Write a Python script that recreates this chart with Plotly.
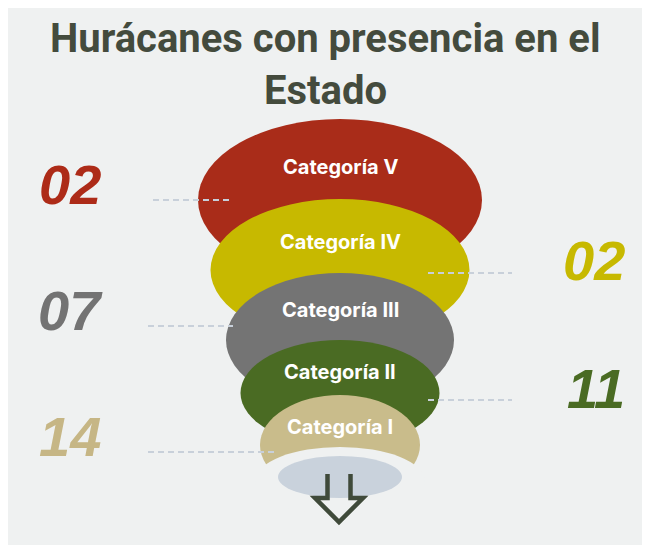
import plotly.graph_objects as go

# ---- data ----
categories = ["Categoría V", "Categoría IV", "Categoría III", "Categoría II", "Categoría I"]
counts = [2, 2, 7, 11, 14]
sides = ["left", "right", "left", "right", "left"]
colors = ["#a92c19", "#c7b900", "#747474", "#4a6b23", "#c9bc8b"]
number_colors = ["#ad2b18", "#c7b900", "#737373", "#4a6b23", "#c6b685"]
title_lines = ["Hurácanes con presencia en el", "Estado"]

# ---- layout geometry (page pixels, y downwards) ----
W, H = 650, 545
OFF = 8  # page body margin
CX = 340
ell_cy = [200, 270, 340, 393, 445]
ell_rx = [142, 129.5, 114, 99.5, 80]
ell_ry = [81, 71, 67, 53, 50]
label_y = [167, 242, 310, 372, 427]
number_y = [184, 260, 310, 388, 436]
dash_y = [200, 273, 326, 400, 452]
dash_left = [(153, 233), (148, 233), (148, 275)]
dash_right = [(428, 512), (428, 512)]

BG = "#eff1f1"
LINE = "#c8d0da"
TITLE_COLOR = "#444b3d"

shapes = []
for i, c in enumerate(categories):
    shapes.append(dict(type="circle", xref="x", yref="y",
                       x0=CX - ell_rx[i], x1=CX + ell_rx[i],
                       y0=ell_cy[i] - ell_ry[i], y1=ell_cy[i] + ell_ry[i],
                       fillcolor=colors[i], line=dict(width=0), layer="above"))

# cut-out and base disc
shapes.append(dict(type="circle", xref="x", yref="y", x0=CX - 85, x1=CX + 85,
                   y0=447, y1=515, fillcolor=BG, line=dict(width=0), layer="above"))
shapes.append(dict(type="circle", xref="x", yref="y", x0=CX - 62, x1=CX + 62,
                   y0=456, y1=498, fillcolor="#c9d2dc", line=dict(width=0), layer="above"))

# arrow
ax0 = CX - 1
arrow = (f"M {ax0-11.5} 474 L {ax0-11.5} 498 L {ax0-24} 498 L {ax0} 522 "
         f"L {ax0+24} 498 L {ax0+11.5} 498 L {ax0+11.5} 474")
shapes.append(dict(type="path", xref="x", yref="y", path=arrow,
                   line=dict(color="#3f4a3a", width=4.5), layer="above"))

# dashed leader lines
li = ri = 0
for i, s in enumerate(sides):
    if s == "left":
        x0, x1 = dash_left[li]; li += 1
    else:
        x0, x1 = dash_right[ri]; ri += 1
    shapes.append(dict(type="line", xref="x", yref="y", x0=x0, x1=x1,
                       y0=dash_y[i], y1=dash_y[i],
                       line=dict(color=LINE, width=2, dash="6px,4px"), layer="above"))

annotations = []
annotations.append(dict(x=325, y=38, xref="x", yref="y", text=title_lines[0],
                        showarrow=False, xanchor="center", yanchor="middle",
                        font=dict(family="Roboto", size=40, color=TITLE_COLOR, weight="bold")))
annotations.append(dict(x=325, y=90, xref="x", yref="y", text=title_lines[1],
                        showarrow=False, xanchor="center", yanchor="middle",
                        font=dict(family="Roboto", size=40, color=TITLE_COLOR, weight="bold")))

for i, c in enumerate(categories):
    annotations.append(dict(x=CX, y=label_y[i], xref="x", yref="y", text=c,
                            showarrow=False, xanchor="center", yanchor="middle",
                            font=dict(family="Inter", size=20, color="white", weight="bold")))
    txt = f"{counts[i]:02d}"
    if sides[i] == "left":
        ax, anchor = 70, "center"
    else:
        ax, anchor = 627, "right"
    annotations.append(dict(x=ax, y=number_y[i], xref="x", yref="y", text=txt,
                            showarrow=False, xanchor=anchor, yanchor="middle",
                            font=dict(family="Liberation Sans", size=56,
                                      color=number_colors[i], weight="bold", style="italic")))

fig = go.Figure()
fig.update_layout(
    width=W, height=H, margin=dict(l=0, r=0, t=0, b=0),
    paper_bgcolor=BG, plot_bgcolor=BG,
    xaxis=dict(range=[OFF, W + OFF], visible=False, fixedrange=True),
    yaxis=dict(range=[H + OFF, OFF], visible=False, fixedrange=True),
    shapes=shapes, annotations=annotations, showlegend=False,
)
fig.write_html("out.html")
